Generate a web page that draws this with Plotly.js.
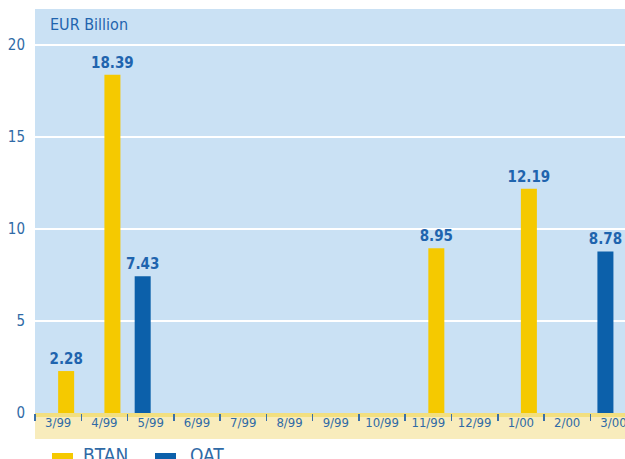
<!DOCTYPE html>
<html>
<head>
<meta charset="utf-8">
<script src="https://cdn.plot.ly/plotly-3.0.1.min.js"></script>
<style>html,body{margin:0;padding:0;overflow:hidden;background:#fff}</style>
</head>
<body>
<div id="chart" style="width:625px;height:459px"></div>
<script>
const categories = ["3/99","4/99","5/99","6/99","7/99","8/99","9/99","10/99","11/99","12/99","1/00","2/00","3/00"];
const btanValues = [2.28, 18.39, null, null, null, null, null, null, 8.95, null, 12.19, null, null];
const oatValues  = [null, null, 7.43, null, null, null, null, null, null, null, null, null, 8.78];
const seriesNames = ["BTAN", "OAT"];
const yTicks = [0, 5, 10, 15, 20];

const FONT = '"DejaVu Sans Condensed", "Liberation Sans Narrow", sans-serif';
const BLUE_TEXT = '#1f64ae';
const YELLOW = '#f5c900';
const BLUE = '#0c60aa';

const labelFont = {family: FONT, size: 15, color: BLUE_TEXT, weight: 'bold'};

const traces = [
  {
    type: 'bar', name: seriesNames[1], x: categories, y: oatValues,
    marker: {color: BLUE}, texttemplate: '%{y:.2f}', textposition: 'outside',
    constraintext: 'none',
    textfont: labelFont, cliponaxis: false, hoverinfo: 'x+y'
  },
  {
    type: 'bar', name: seriesNames[0], x: categories, y: btanValues,
    marker: {color: YELLOW}, texttemplate: '%{y:.2f}', textposition: 'outside',
    constraintext: 'none',
    textfont: labelFont, cliponaxis: false, hoverinfo: 'x+y'
  }
];

// pixel helpers for decorative layout items (plot area: x 35..625, y 9..413)
const px = p => (p - 35) / 590;
const py = p => (413 - p) / 404;

const layout = {
  width: 625, height: 459,
  margin: {l: 35, r: 0, t: 9, b: 46, pad: 0},
  paper_bgcolor: '#ffffff',
  plot_bgcolor: '#cae1f4',
  barmode: 'group',
  bargap: 0.308,
  bargroupgap: 0,
  showlegend: false,
  font: {family: FONT, color: BLUE_TEXT},
  xaxis: {
    type: 'category',
    range: [-0.5, 12.25],
    tickson: 'boundaries',
    ticks: 'outside', ticklen: 7, tickwidth: 1.5, tickcolor: '#3a6fa8',
    tickfont: {family: FONT, size: 13, color: '#2f6aa6'},
    showgrid: false, zeroline: false, showline: false,
    fixedrange: true
  },
  yaxis: {
    range: [0, 21.96],
    tickvals: yTicks,
    ticktext: yTicks.map(String),
    ticks: '', ticklabelstandoff: 9,
    tickfont: {family: FONT, size: 15, color: '#2f6aa6'},
    showgrid: true, gridcolor: '#ffffff', gridwidth: 1.6,
    zeroline: false, showline: false,
    fixedrange: true
  },
  shapes: [
    {type: 'rect', xref: 'paper', yref: 'paper', x0: 0, x1: 1, y0: py(439), y1: 0,
     fillcolor: '#f8ecbc', line: {width: 0}, layer: 'below'},
    {type: 'rect', xref: 'paper', yref: 'paper', x0: 0, x1: 1, y0: py(417), y1: 0,
     fillcolor: '#f2df80', line: {width: 0}, layer: 'below'},
    {type: 'rect', xref: 'paper', yref: 'paper', x0: px(52), x1: px(73), y0: py(461), y1: py(453),
     fillcolor: YELLOW, line: {width: 0}},
    {type: 'rect', xref: 'paper', yref: 'paper', x0: px(155), x1: px(176), y0: py(461), y1: py(453),
     fillcolor: BLUE, line: {width: 0}}
  ],
  annotations: [
    {text: 'EUR Billion', xref: 'paper', yref: 'paper', x: px(48), y: py(24),
     xanchor: 'left', yanchor: 'middle', showarrow: false,
     font: {family: FONT, size: 16, color: BLUE_TEXT}},
    {text: seriesNames[0], xref: 'paper', yref: 'paper', x: px(81), y: py(455),
     xanchor: 'left', yanchor: 'middle', showarrow: false,
     font: {family: FONT, size: 19, color: '#2f6aa6'}},
    {text: seriesNames[1], xref: 'paper', yref: 'paper', x: px(188), y: py(455),
     xanchor: 'left', yanchor: 'middle', showarrow: false,
     font: {family: FONT, size: 19, color: '#2f6aa6'}}
  ]
};

Plotly.newPlot('chart', traces, layout, {displayModeBar: false, staticPlot: true});
</script>
</body>
</html>
